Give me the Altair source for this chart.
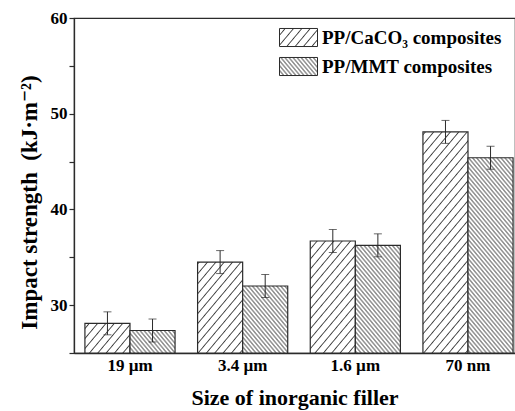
import altair as alt
import jinja2
import pandas as pd

# Impact strength of PP composites by inorganic filler size (mean ± error)
sizes = ["19 µm", "3.4 µm", "1.6 µm", "70 nm"]
series = ["PP/CaCO₃ composites", "PP/MMT composites"]
caco3_mean = [28.1, 34.5, 36.7, 48.1]
caco3_err = [1.2, 1.2, 1.2, 1.2]
mmt_mean = [27.35, 32.0, 36.25, 45.4]
mmt_err = [1.2, 1.2, 1.2, 1.2]
y_ticks = [25, 30, 35, 40, 45, 50, 55, 60]

rows = []
for name, means, errs in ((series[0], caco3_mean, caco3_err),
                          (series[1], mmt_mean, mmt_err)):
    for size, m, e in zip(sizes, means, errs):
        rows.append({"size": size, "series": name, "value": m,
                     "lo": m - e, "hi": m + e})
df = pd.DataFrame(rows)

FONT = "'Liberation Serif', 'Times New Roman', Times, 'DejaVu Serif', serif"
INK = "#2b2b2b"
Y_TITLE = "Impact strength\u00a0 (kJ·m⁻²)"
X_TITLE = "Size of inorganic filler"

# hatch fills, defined as SVG patterns in the page
HATCH_DEFS = """
<svg width="0" height="0" style="position:absolute" aria-hidden="true">
  <defs>
    <pattern id="hatch-caco3" patternUnits="userSpaceOnUse" width="6.4" height="10"
             patternTransform="rotate(40)">
      <rect x="0" y="0" width="6.4" height="10" fill="white"/>
      <line x1="3.2" y1="0" x2="3.2" y2="10" stroke="#333333" stroke-width="0.9"/>
    </pattern>
    <pattern id="hatch-mmt" patternUnits="userSpaceOnUse" width="3.1" height="10"
             patternTransform="rotate(-40)">
      <rect x="0" y="0" width="3.1" height="10" fill="white"/>
      <line x1="1.55" y1="0" x2="1.55" y2="10" stroke="#333333" stroke-width="0.8"/>
    </pattern>
  </defs>
</svg>
"""

PAGE = jinja2.Template("""<!DOCTYPE html>
<html>
<head>
<meta charset="utf-8">
<style>
  body { margin: 0; }
  #{{ output_div }}.vega-embed { width: 100%; display: flex; }
</style>
<script type="text/javascript" src="{{ base_url }}/vega@{{ vega_version }}"></script>
<script type="text/javascript" src="{{ base_url }}/vega-lite@{{ vegalite_version }}"></script>
<script type="text/javascript" src="{{ base_url }}/vega-embed@{{ vegaembed_version }}"></script>
</head>
<body>
""" + HATCH_DEFS + """
<div id="{{ output_div }}"></div>
<script>
  vegaEmbed("#{{ output_div }}", {{ spec }}, {{ embed_options }}).catch(console.error);
</script>
</body>
</html>
""")

text_style = dict(labelFont=FONT, labelFontSize=17, labelFontWeight="bold",
                  labelColor="black", titleFont=FONT, titleFontSize=22,
                  titleFontWeight="bold", titleColor="black")

y_scale = alt.Scale(domain=[25, 60], nice=False, zero=False)
y_axis = alt.Axis(values=y_ticks,
                  labelExpr="datum.value % 10 === 0 ? datum.value : ''",
                  labelPadding=2, titleX=-45, titleY=184,
                  titleBaseline="middle", **dict(text_style, titleFontSize=23))

base = alt.Chart(df).encode(
    x=alt.X("size:N", sort=sizes, title=X_TITLE,
            scale=alt.Scale(paddingInner=0.2, paddingOuter=0.057, align=0.85),
            axis=alt.Axis(labelAngle=0, ticks=False, labelPadding=4,
                          titleY=51, titleBaseline="alphabetic", **text_style)),
    xOffset=alt.XOffset("series:N", sort=series,
                        scale=alt.Scale(paddingInner=0, paddingOuter=0)),
)

bars = base.mark_bar(stroke=INK, strokeWidth=1.2).encode(
    y=alt.Y("value:Q", scale=y_scale, title=Y_TITLE, axis=y_axis),
    y2=alt.datum(25),
    color=alt.Color(
        "series:N", sort=series,
        scale=alt.Scale(domain=series,
                        range=["url(#hatch-caco3)", "url(#hatch-mmt)"]),
        legend=alt.Legend(title=None, orient="none", legendX=214.5, legendY=9.5,
                          symbolType="M-2,-0.95H2V0.95H-2Z", symbolSize=361,
                          symbolStrokeColor=INK, symbolStrokeWidth=1,
                          symbolOpacity=1, labelFont=FONT, labelFontSize=19,
                          labelFontWeight="bold", labelColor="black",
                          labelLimit=400, labelOffset=13.5, rowPadding=5,
                          padding=0),
    ),
)

whiskers = base.mark_rule(color=INK, strokeWidth=1).encode(
    y=alt.Y("lo:Q", scale=y_scale, title=Y_TITLE, axis=y_axis),
    y2="hi:Q",
)

cap_lo = base.mark_tick(color=INK, thickness=1, size=8, orient="horizontal").encode(
    y=alt.Y("lo:Q", scale=y_scale, title=Y_TITLE, axis=y_axis),
)
cap_hi = base.mark_tick(color=INK, thickness=1, size=8, orient="horizontal").encode(
    y=alt.Y("hi:Q", scale=y_scale, title=Y_TITLE, axis=y_axis),
)

chart = (
    alt.layer(bars, whiskers, cap_lo, cap_hi)
    .properties(width=441, height=335, autosize=alt.AutoSizeParams(type="none"),
                padding={"left": 74, "top": 18, "right": 0, "bottom": 58},
                background="white")
    .configure(font=FONT)
    .configure_axis(domainColor=INK, domainWidth=1.3, tickColor=INK,
                    tickWidth=1.2, tickSize=5, grid=False, **text_style)
    .configure_view(stroke=INK, strokeWidth=1.2)
)

chart.save("out.html", embed_options={"renderer": "svg", "actions": False},
           template=PAGE)
